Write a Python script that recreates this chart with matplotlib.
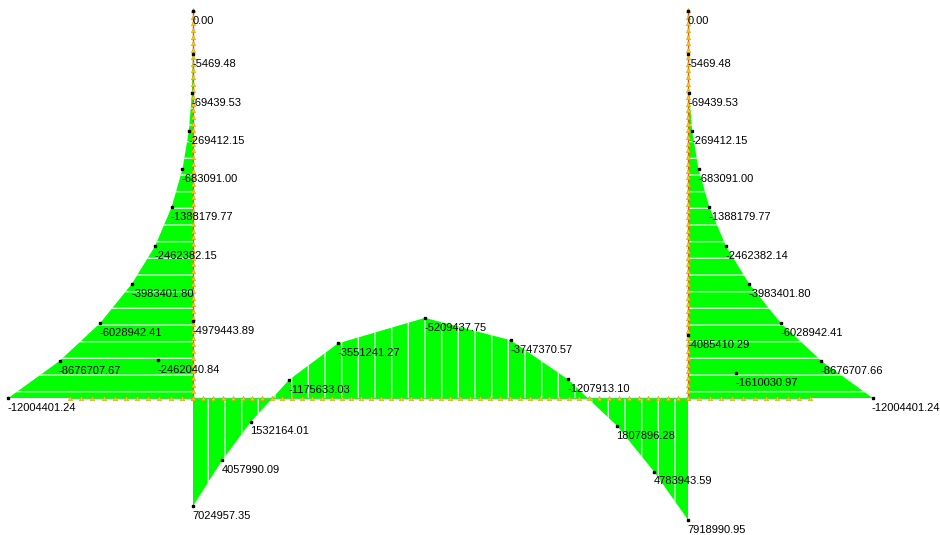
import numpy as np
import matplotlib
matplotlib.use("Agg")
import matplotlib.pyplot as plt
from matplotlib.patches import Polygon

# ---------------- data ----------------
# geometry (m)
span = 49.5
col_h = 38.7
cant_left = 12.3
cant_right = 12.2

# column stations (height above beam, m) and bending moments
col_z = [38.7, 34.4, 30.5, 26.7, 22.9, 19.1, 15.2, 11.4, 7.5, 3.7, 0.0]
col_m_left = [0.00, -5469.48, -69439.53, -269412.15, -683091.00, -1388179.77,
              -2462382.15, -3983401.80, -6028942.41, -8676707.67, -12004401.24]
col_m_right = [0.00, -5469.48, -69439.53, -269412.15, -683091.00, -1388179.77,
               -2462382.14, -3983401.80, -6028942.41, -8676707.66, -12004401.24]

# main span stations (m from left column) and moments
span_x = [0.0, 2.9, 5.8, 9.6, 14.5, 23.2, 31.8, 37.5, 42.4, 46.1, 49.5]
span_m = [7024957.35, 4057990.09, 1532164.01, -1175633.03, -3551241.27,
          -5209437.75, -3747370.57, -1207913.10, 1807896.28, 4783943.59,
          7918990.95]

# cantilevers (distance from column, m) and moments
cl_d = [3.5, 0.0]
cl_m = [-2462040.84, -4979443.89]
cr_d = [4.8, 0.0]
cr_m = [-1610030.97, -4085410.29]

# ---------------- drawing ----------------
S = 1.0 / 650000.0   # m of drawing per unit moment
GREEN = "#00ff00"
HATCH_C = "#d8ffd8"
plt.rcParams["hatch.linewidth"] = 1.0

fig = plt.figure(figsize=(9.4, 5.35), dpi=100)
ax = fig.add_axes([0, 0, 1, 1])
ax.set_xlim(-19.3, 74.7)
ax.set_ylim(-13.7, 39.8)
ax.axis("off")

def poly(pts, hatch):
    p = Polygon(pts, closed=True, facecolor=GREEN, edgecolor=HATCH_C,
                lw=0, hatch=hatch, zorder=1)
    ax.add_patch(p)

zc = np.array(col_z)
lx = np.array(col_m_left) * S
rx = span - np.array(col_m_right) * S
# columns
poly([(0, zc[0]), (0, 0)] + list(zip(lx[::-1], zc[::-1])), "-")
poly([(span, zc[0]), (span, 0)] + list(zip(rx[::-1], zc[::-1])), "-")
# cantilevers
clx = -np.array(cl_d)
cly = -np.array(cl_m) * S
poly([(clx[0], 0), (0, 0), (0, cly[1]), (clx[0], cly[0])], "-")
crx = span + np.array(cr_d)
cry = -np.array(cr_m) * S
poly([(crx[0], 0), (span, 0), (span, cry[1]), (crx[0], cry[0])], "-")
# main span
sx = np.array(span_x)
sy = -np.array(span_m) * S
poly([(sx[0], 0)] + list(zip(sx, sy)) + [(sx[-1], 0)], "|")

# member lines and nodes
ax.plot([-cant_left, span + cant_right], [0, 0], color="#40e040", lw=1, zorder=2)
for xc in (0, span):
    ax.plot([xc, xc], [0, col_h + 0.1], color="#ff3b3b", lw=1, zorder=2)
    zn = np.linspace(0, col_h + 0.1, 59)
    ax.plot(np.full_like(zn, xc), zn, ls="none", marker="^", ms=3.2,
            mfc="#f2d000", mec="#c09a00", mew=0.3, zorder=3)
bn = np.concatenate([np.linspace(-cant_left, 0, 12), np.linspace(0, span, 51),
                     np.linspace(span, span + cant_right, 12)])
ax.plot(bn, np.zeros_like(bn), ls="none", marker="^", ms=3.2,
        mfc="#f2d000", mec="#c09a00", mew=0.3, zorder=3)

# dots and labels
pts = (list(zip(lx, zc, col_m_left)) + list(zip(rx, zc, col_m_right)) +
       list(zip(clx, cly, cl_m)) + list(zip(crx, cry, cr_m)) +
       list(zip(sx, sy, span_m)))
for x, y, v in pts:
    ax.plot([x], [y], ls="none", marker="s", ms=1.8, color="black", zorder=4)
    ax.annotate(f"{v:.2f}", (x, y), xytext=(-0.5, -7), textcoords="offset points",
                ha="left", va="center", fontsize=8,
                family=["Liberation Sans", "DejaVu Sans"], color="black",
                zorder=5)

fig.savefig("out.png", dpi=100)
